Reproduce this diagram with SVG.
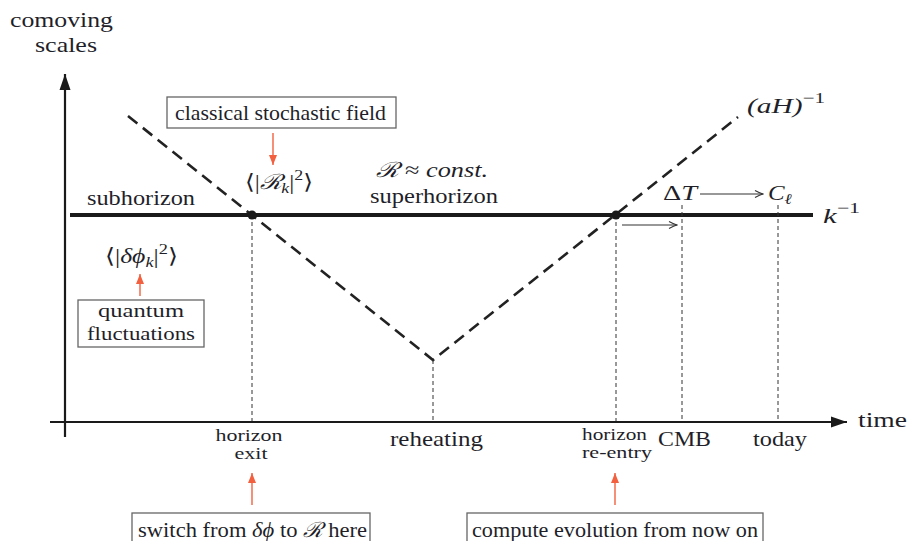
<svg xmlns="http://www.w3.org/2000/svg" width="908" height="541" viewBox="0 0 908 541">
<style>
text { font-family: "Liberation Serif", "DejaVu Serif", serif; fill: #1f1f2a; font-size: 21px; }
.big { font-size: 22px; }
.lab { font-size: 18px; }
.lab2 { font-size: 17px; }
.it { font-style: italic; }
.sm { font-size: 15px; }
.box { fill: #fff; stroke: #666; stroke-width: 1.3; }
.thin { stroke: #333; stroke-width: 1; stroke-dasharray: 4 3; fill: none; }
.dash { stroke: #222; stroke-width: 2.6; stroke-dasharray: 12 7; fill: none; }
.axis { stroke: #1a1a1a; stroke-width: 2.2; fill: none; }
.kline { stroke: #1a1a1a; stroke-width: 4; fill: none; }
.orange { stroke: #f2603f; stroke-width: 1.4; fill: none; }
.blk { stroke: #333; stroke-width: 1.1; fill: none; }
</style>
<defs>
<marker id="oh" markerUnits="userSpaceOnUse" viewBox="0 0 10 8" refX="10" refY="4" markerWidth="10" markerHeight="8" orient="auto">
<path d="M0,0 L10,4 L0,8 z" fill="#f2603f"/>
</marker>
<marker id="ah" markerUnits="userSpaceOnUse" viewBox="0 0 16 12" refX="16" refY="6" markerWidth="16" markerHeight="12" orient="auto">
<path d="M0,0.5 L16,6 L0,11.5 z" fill="#1a1a1a"/>
</marker>
<marker id="vh" markerUnits="userSpaceOnUse" viewBox="-9 -5 10 10" refX="0" refY="0" markerWidth="10" markerHeight="10" orient="auto">
<path d="M-8,-3.5 Q-3,-0.8 0,0 Q-3,0.8 -8,3.5" fill="none" stroke="#333" stroke-width="1.1"/>
</marker>
</defs>

<g id="connectors">
<path class="axis" d="M65,437 L65,74" marker-end="url(#ah)"/>
<path class="axis" d="M50,422 L847,422" marker-end="url(#ah)"/>
<path class="kline" d="M70,215 L813,215"/>
<path class="dash" d="M128,116 L433,360 L738,117"/>
<path class="thin" d="M252,215 L252,421"/>
<path class="thin" d="M433,360 L433,421"/>
<path class="thin" d="M616,215 L616,421"/>
<path class="thin" d="M682,205 L682,421"/>
<path class="thin" d="M778,205 L778,421"/>
<path class="blk" d="M622,225 L677,225" marker-end="url(#vh)"/>
<path class="blk" d="M700,194 L763,194" marker-end="url(#vh)"/>
<path class="orange" d="M273,133 L273,165" marker-end="url(#oh)"/>
<path class="orange" d="M140,296 L140,274" marker-end="url(#oh)"/>
<path class="orange" d="M252,505 L252,473" marker-end="url(#oh)"/>
<path class="orange" d="M615,505 L615,473" marker-end="url(#oh)"/>
<circle cx="252" cy="215" r="4.5" fill="#1a1a1a"/>
<circle cx="616" cy="215" r="4.5" fill="#1a1a1a"/>
</g>

<g id="axis-labels">
<text class="big" x="10" y="27" textLength="103" lengthAdjust="spacingAndGlyphs">comoving</text>
<text class="big" x="35" y="52" textLength="62" lengthAdjust="spacingAndGlyphs">scales</text>
<text x="858" y="427" textLength="49" lengthAdjust="spacingAndGlyphs" class="big">time</text>
</g>

<g id="box-classical">
<rect class="box" x="167" y="97" width="229" height="31"/>
<text x="175" y="120" textLength="211" lengthAdjust="spacingAndGlyphs">classical stochastic field</text>
</g>

<g id="label-Rk">
<text x="245" y="189" font-size="23" textLength="68" lengthAdjust="spacingAndGlyphs">⟨|<tspan class="it">ℛ</tspan><tspan class="it sm" dy="4">k</tspan><tspan dy="-4">|</tspan><tspan class="sm" dy="-9">2</tspan><tspan dy="9">⟩</tspan></text>
</g>

<g id="label-const">
<text x="376" y="177" font-size="22" textLength="112" lengthAdjust="spacingAndGlyphs"><tspan class="it">ℛ</tspan> ≈ <tspan class="it">const.</tspan></text>
<text x="370" y="203" textLength="128" lengthAdjust="spacingAndGlyphs">superhorizon</text>
</g>

<g id="label-subhorizon">
<text x="87" y="205" textLength="108" lengthAdjust="spacingAndGlyphs">subhorizon</text>
</g>

<g id="label-dphi">
<text x="105" y="263" font-size="23" textLength="73" lengthAdjust="spacingAndGlyphs">⟨|<tspan class="it">δϕ</tspan><tspan class="it sm" dy="4">k</tspan><tspan dy="-4">|</tspan><tspan class="sm" dy="-9">2</tspan><tspan dy="9">⟩</tspan></text>
</g>

<g id="box-quantum">
<rect class="box" x="78" y="300" width="126" height="47"/>
<text x="141" y="317" text-anchor="middle" class="lab" textLength="86" lengthAdjust="spacingAndGlyphs">quantum</text>
<text x="141" y="340" text-anchor="middle" class="lab" textLength="108" lengthAdjust="spacingAndGlyphs">fluctuations</text>
</g>

<g id="label-aH">
<text x="747" y="113" class="it" font-size="25" textLength="78" lengthAdjust="spacingAndGlyphs">(aH)<tspan class="sm" dy="-10" font-style="normal">−1</tspan></text>
</g>

<g id="label-k">
<text x="823" y="223" class="it" font-size="25" textLength="37" lengthAdjust="spacingAndGlyphs">k<tspan class="sm" dy="-10" font-style="normal">−1</tspan></text>
</g>

<g id="label-dT">
<text x="663" y="200" font-size="23" textLength="34" lengthAdjust="spacingAndGlyphs">Δ<tspan class="it">T</tspan></text>
</g>

<g id="label-Cl">
<text x="768" y="200" class="it" font-size="23" textLength="24" lengthAdjust="spacingAndGlyphs">C<tspan class="sm" dy="4">ℓ</tspan></text>
</g>

<g id="label-exit">
<text x="249" y="441" text-anchor="middle" class="lab2" textLength="67" lengthAdjust="spacingAndGlyphs">horizon</text>
<text x="251" y="459" text-anchor="middle" class="lab2" textLength="33" lengthAdjust="spacingAndGlyphs">exit</text>
</g>

<g id="label-reheating">
<text x="390" y="446" textLength="93" lengthAdjust="spacingAndGlyphs">reheating</text>
</g>

<g id="label-reentry">
<text x="582" y="440" class="lab2" textLength="65" lengthAdjust="spacingAndGlyphs">horizon</text>
<text x="582" y="458" class="lab2" textLength="70" lengthAdjust="spacingAndGlyphs">re-entry</text>
</g>

<g id="label-cmb">
<text x="658" y="446" textLength="53" lengthAdjust="spacingAndGlyphs">CMB</text>
</g>

<g id="label-today">
<text x="753" y="446" textLength="54" lengthAdjust="spacingAndGlyphs">today</text>
</g>

<g id="box-switch">
<rect class="box" x="132" y="513" width="238" height="40"/>
<text x="138" y="537" textLength="229" lengthAdjust="spacingAndGlyphs">switch from <tspan class="it">δϕ</tspan> to <tspan class="it">ℛ</tspan> here</text>
</g>

<g id="box-compute">
<rect class="box" x="467" y="513" width="296" height="40"/>
<text x="472" y="537" textLength="286" lengthAdjust="spacingAndGlyphs">compute evolution from now on</text>
</g>
</svg>
